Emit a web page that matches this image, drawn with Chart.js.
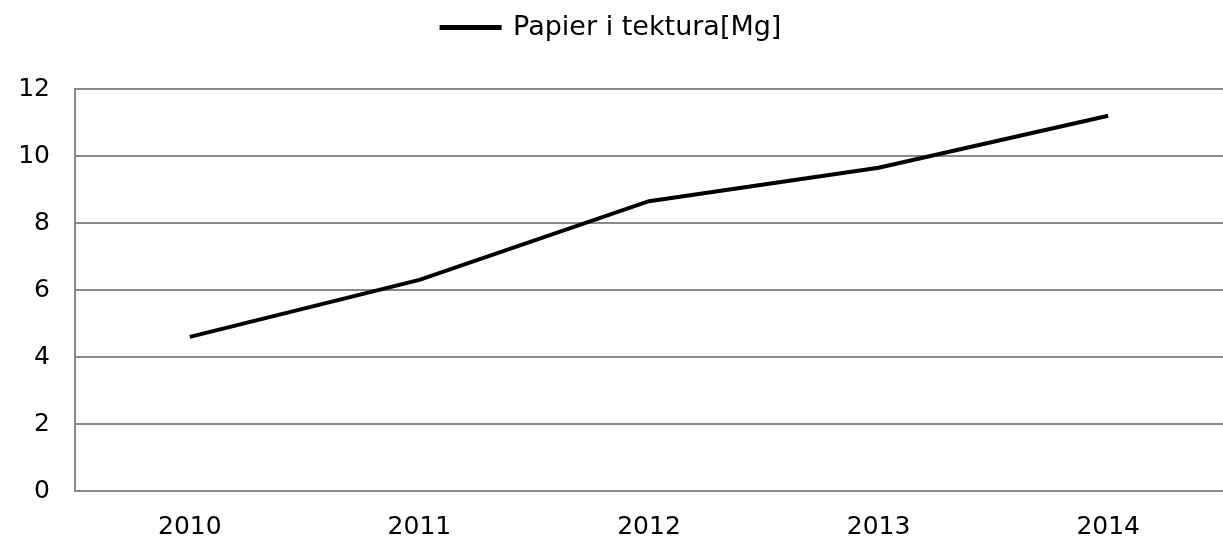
<!DOCTYPE html>
<html>
<head>
<meta charset="utf-8">
<script src="https://cdn.jsdelivr.net/npm/chart.js@4"></script>
<style>
  html, body { margin: 0; padding: 0; background: #fff; }
  #wrap { width: 1223px; height: 539px; }
</style>
</head>
<body>
<div id="wrap"><canvas id="chart"></canvas></div>
<script>
// Data
const years = ['2010', '2011', '2012', '2013', '2014'];
const paper = [4.6, 6.3, 8.65, 9.65, 11.2];
const seriesLabel = 'Papier i tektura[Mg]';

const gridColor = '#898989';

// push the plot area down below the legend
const legendSpace = {
    id: 'legendSpace',
    beforeInit(chart) {
        const fit = chart.legend.fit;
        chart.legend.fit = function() {
            fit.bind(chart.legend)();
            this.height += 38;
        };
    }
};

const ctx = document.getElementById('chart').getContext('2d');
new Chart(ctx, {
    type: 'line',
    data: {
        labels: years,
        datasets: [{
            label: seriesLabel,
            data: paper,
            borderColor: '#000',
            backgroundColor: '#000',
            borderWidth: 4,
            pointRadius: 0,
            tension: 0
        }]
    },
    options: {
        responsive: true,
        maintainAspectRatio: false,
        animation: false,
        layout: { padding: { top: 4, right: 0, bottom: 0, left: 0 } },
        plugins: {
            legend: {
                position: 'top',
                labels: {
                    color: '#000',
                    font: { family: 'DejaVu Sans', size: 27 },
                    boxWidth: 58,
                    boxHeight: 1,
                    padding: 10
                }
            },
            tooltip: { enabled: false }
        },
        scales: {
            x: {
                offset: true,
                grid: { display: false, drawTicks: false },
                border: { color: gridColor, width: 2 },
                ticks: {
                    color: '#000',
                    font: { family: 'DejaVu Sans', size: 25 },
                    padding: 21,
                    maxRotation: 0
                },
                afterFit(scale) { scale.height = 48; }
            },
            y: {
                min: 0,
                max: 12,
                grid: { color: gridColor, lineWidth: 2, drawTicks: false },
                border: { color: gridColor, width: 2 },
                ticks: {
                    stepSize: 2,
                    color: '#000',
                    font: { family: 'DejaVu Sans', size: 25 },
                    padding: 25
                },
                afterFit(scale) { scale.width = 75; }
            }
        }
    },
    plugins: [legendSpace]
});
</script>
</body>
</html>
